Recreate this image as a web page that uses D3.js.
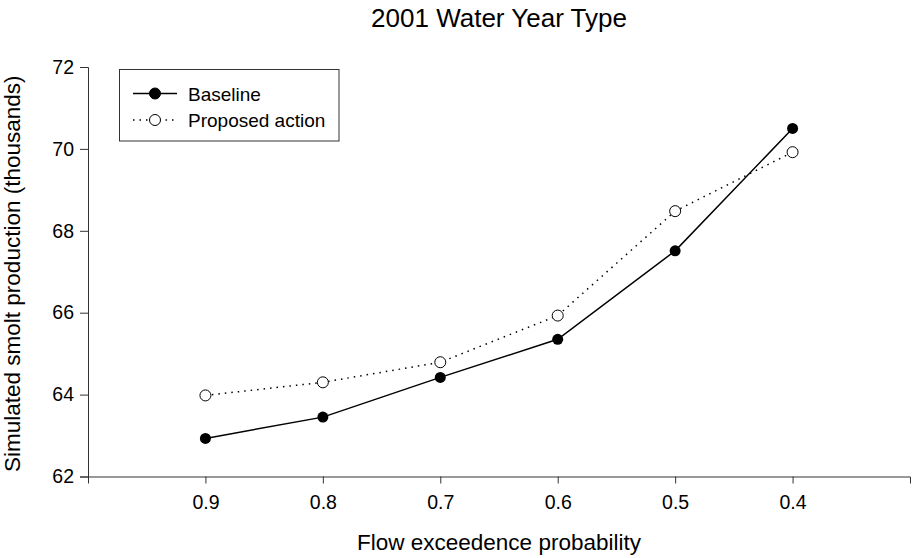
<!DOCTYPE html>
<html>
<head>
<meta charset="utf-8">
<script src="https://cdn.jsdelivr.net/npm/d3@7"></script>
<style>
  body { margin: 0; background: #fff; }
  svg { display: block; font-family: "Liberation Sans", Arial, sans-serif; }
</style>
</head>
<body>
<svg id="chart" width="913" height="558"></svg>
<script>
var probability = [0.9, 0.8, 0.7, 0.6, 0.5, 0.4];
var baseline = [62.93, 63.45, 64.42, 65.35, 67.51, 70.50];
var proposed = [63.98, 64.30, 64.79, 65.93, 68.48, 69.92];
var yTicks = [62, 64, 66, 68, 70, 72];
var seriesNames = ["Baseline", "Proposed action"];

var svgWidth = 913;
var svgHeight = 558;
var margin = { top: 67, bottom: 81.5, left: 88, right: 3 };

var svg = d3.select("#chart");

var x = d3.scaleLinear()
  .domain([1.0, 0.3])
  .range([margin.left, svgWidth - margin.right]);

var y = d3.scaleLinear()
  .domain([62, 72])
  .range([svgHeight - margin.bottom, margin.top]);

// axes
var xAxis = svg.append("g")
  .attr("transform", "translate(0," + (svgHeight - margin.bottom) + ")")
  .call(d3.axisBottom(x).tickValues(probability).tickFormat(d3.format(".1f")).tickSizeOuter(0).tickSize(7).tickPadding(12));
var yAxis = svg.append("g")
  .attr("transform", "translate(" + margin.left + ",0)")
  .call(d3.axisLeft(y).tickValues(yTicks).tickSizeOuter(0).tickSize(8).tickPadding(6));

[xAxis, yAxis].forEach(function(g) {
  g.select(".domain").attr("stroke", "#333").attr("stroke-width", 1);
  g.selectAll(".tick line").attr("stroke", "#333");
  g.selectAll(".tick text")
    .attr("fill", "#000")
    .style("font-size", "19.5px")
    .style("font-family", "Liberation Sans, Arial, sans-serif");
});

// titles
svg.append("text")
  .attr("x", (margin.left + svgWidth - margin.right) / 2)
  .attr("y", 27)
  .attr("text-anchor", "middle")
  .style("font-size", "26px")
  .text("2001 Water Year Type");

svg.append("text")
  .attr("x", (margin.left + svgWidth - margin.right) / 2)
  .attr("y", 550)
  .attr("text-anchor", "middle")
  .style("font-size", "22.5px")
  .text("Flow exceedence probability");

svg.append("text")
  .attr("transform", "translate(20," + ((svgHeight - margin.bottom + margin.top) / 2 + 2) + ") rotate(-90)")
  .attr("text-anchor", "middle")
  .style("font-size", "22.5px")
  .text("Simulated smolt production (thousands)");

// lines
var line = d3.line()
  .x(function(d, i) { return x(probability[i]); })
  .y(function(d) { return y(d); });

svg.append("path")
  .datum(proposed)
  .attr("d", line)
  .attr("fill", "none")
  .attr("stroke", "#000")
  .attr("stroke-width", 1.5)
  .attr("stroke-dasharray", "1.5,5");

svg.append("path")
  .datum(baseline)
  .attr("d", line)
  .attr("fill", "none")
  .attr("stroke", "#000")
  .attr("stroke-width", 1.5);

svg.selectAll(".ptBase")
  .data(baseline)
  .enter()
  .append("circle")
  .attr("class", "ptBase")
  .attr("cx", function(d, i) { return x(probability[i]); })
  .attr("cy", function(d) { return y(d); })
  .attr("r", 5.5)
  .attr("fill", "#000");

svg.selectAll(".ptProp")
  .data(proposed)
  .enter()
  .append("circle")
  .attr("class", "ptProp")
  .attr("cx", function(d, i) { return x(probability[i]); })
  .attr("cy", function(d) { return y(d); })
  .attr("r", 5.5)
  .attr("fill", "#fff")
  .attr("stroke", "#000")
  .attr("stroke-width", 1);

// legend
var legend = svg.append("g");
legend.append("rect")
  .attr("x", 119.5)
  .attr("y", 69.5)
  .attr("width", 219.5)
  .attr("height", 71.5)
  .attr("fill", "#fff")
  .attr("stroke", "#333")
  .attr("stroke-width", 1);

var legendRows = legend.selectAll(".row")
  .data(seriesNames)
  .enter()
  .append("g")
  .attr("class", "row")
  .attr("transform", function(d, i) { return "translate(0," + (93.5 + i * 26.5) + ")"; });

legendRows.append("line")
  .attr("x1", 133)
  .attr("x2", 177)
  .attr("stroke", "#000")
  .attr("stroke-width", 1.5)
  .attr("stroke-dasharray", function(d, i) { return i == 0 ? null : "1.5,5"; });

legendRows.append("circle")
  .attr("cx", 155)
  .attr("r", 5.5)
  .attr("fill", function(d, i) { return i == 0 ? "#000" : "#fff"; })
  .attr("stroke", "#000")
  .attr("stroke-width", 1);

legendRows.append("text")
  .attr("x", 188)
  .attr("y", 7)
  .style("font-size", "19px")
  .text(function(d) { return d; });
</script>
</body>
</html>
